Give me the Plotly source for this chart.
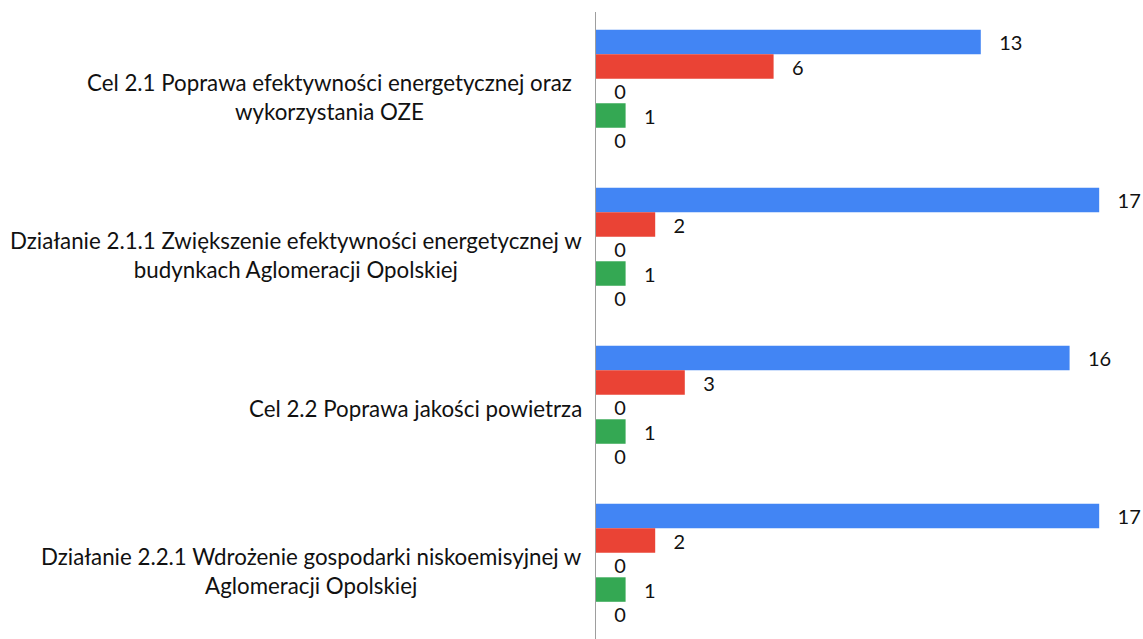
import plotly.graph_objects as go

categories = [
    "Cel 2.1 Poprawa efektywności energetycznej oraz<br>wykorzystania OZE",
    "Działanie 2.1.1 Zwiększenie efektywności energetycznej w<br>budynkach Aglomeracji Opolskiej",
    "Cel 2.2 Poprawa jakości powietrza",
    "Działanie 2.2.1 Wdrożenie gospodarki niskoemisyjnej w<br>Aglomeracji Opolskiej",
]
series_names = ["Seria 1", "Seria 2", "Seria 3", "Seria 4", "Seria 5"]
series_values = [
    [13, 17, 16, 17],
    [6, 2, 3, 2],
    [0, 0, 0, 0],
    [1, 1, 1, 1],
    [0, 0, 0, 0],
]
colors = ["#4285F4", "#EA4335", "#FBBC04", "#34A853", "#FF6D01"]

# label placement (style only)
label_xshift = [-22, -12, -12, -12]

FONT = "Lato, Open Sans, sans-serif"
idx = list(range(len(categories)))

fig = go.Figure()
for name, vals, col in zip(series_names, series_values, colors):
    fig.add_trace(go.Bar(
        y=idx, x=vals, name=name, orientation="h",
        marker=dict(color=col, line=dict(width=0)),
        text=vals, texttemplate="\u00a0\u00a0\u00a0%{x}", textposition="outside",
        textfont=dict(family=FONT, size=20, color="#111111"),
        cliponaxis=False,
    ))

for i, c in enumerate(categories):
    fig.add_annotation(
        x=0, xref="paper", xanchor="right", xshift=label_xshift[i],
        y=i, yref="y", yanchor="middle", yshift=(-6 if "<br>" in c else -1),
        text=c, showarrow=False, align="center",
        font=dict(family=FONT, size=22.3, color="#111111"),
    )

fig.update_layout(
    width=1143, height=639,
    margin=dict(l=596, r=0, t=12, b=0),
    paper_bgcolor="white", plot_bgcolor="white",
    barmode="group", bargap=0.225, bargroupgap=0,
    showlegend=False,
    xaxis=dict(range=[0, 18.48], showgrid=False, zeroline=False, showticklabels=False, showline=False),
    yaxis=dict(range=[3.468, -0.5], showgrid=False, zeroline=False, showticklabels=False,
               showline=True, linecolor="#9e9e9e", linewidth=1, ticks=""),
)

fig.write_html(
    "out.html",
    config={"displayModeBar": False},
    post_script="document.body.style.margin='0';document.body.style.overflow='hidden';",
)
